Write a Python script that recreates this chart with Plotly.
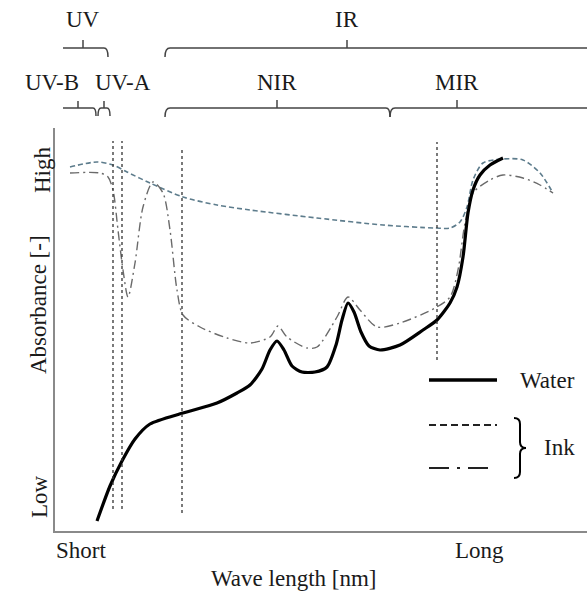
import plotly.graph_objects as go

# ---- data (x: relative wavelength position, y: relative absorbance) ----
water_x = [42, 55, 67, 80, 95, 128, 162, 182, 195, 207, 215, 222, 229, 237, 247, 260, 272, 281, 287, 293,
           299, 306, 314, 325, 345, 368, 382, 395, 402, 408, 413, 418, 425, 435, 448]
water_y = [10, 45, 70, 92, 107, 118, 128, 138, 146, 162, 181, 190, 181, 165, 159, 159, 164, 186, 211, 228,
           219, 199, 185, 181, 186, 201, 211, 228, 244, 274, 318, 341, 356, 366, 373]

ink1_x = [15, 42, 58, 72, 95, 128, 162, 195, 262, 328, 380, 395, 405, 412, 418, 428, 448, 468, 485, 498]
ink1_y = [364, 369, 366, 359, 348, 334, 326, 321, 313, 306, 303, 303, 309, 324, 351, 368, 372, 371, 358, 338]

ink2_x = [15, 45, 53, 58, 63, 68, 73, 80, 88, 98, 108, 115, 122, 128, 145, 172, 195, 215, 223, 232, 252,
          262, 282, 293, 305, 322, 345, 380, 395, 403, 410, 418, 435, 448, 468, 485, 498]
ink2_y = [358, 358, 354, 341, 301, 261, 234, 268, 324, 349, 338, 301, 241, 216, 204, 193, 188, 194, 205,
          194, 183, 184, 214, 234, 221, 204, 208, 223, 234, 261, 308, 338, 351, 356, 353, 346, 338]

boundary_x = [58, 67, 127, 382]
boundary_top = [390, 390, 384, 389]
boundary_bottom = [22, 22, 18, 171]

band_labels = ["UV", "IR", "UV-B", "UV-A", "NIR", "MIR"]

# ---- layout geometry (pixels) ----
W, H = 587, 592
L, R, T, B = 55, 0, 128, 61
PW, PH = W - L - R, H - T - B


def px(x):
    return (x - L) / PW


def py(y):
    return (H - B - y) / PH


def path(cmds):
    out = []
    for c in cmds:
        if isinstance(c, str):
            out.append(c)
        else:
            out.append(f"{px(c[0]):.5f},{py(c[1]):.5f}")
    return " ".join(out)


fig = go.Figure()

fig.add_trace(go.Scatter(x=ink1_x, y=ink1_y, mode="lines",
                         line=dict(color="#5d7c8c", width=1.6, dash="5px,3px", shape="spline", smoothing=0.8),
                         hoverinfo="skip"))
fig.add_trace(go.Scatter(x=ink2_x, y=ink2_y, mode="lines",
                         line=dict(color="#6a6a6a", width=1.4, dash="9px,4px,2px,4px", shape="spline",
                                   smoothing=0.8),
                         hoverinfo="skip"))
fig.add_trace(go.Scatter(x=water_x, y=water_y, mode="lines",
                         line=dict(color="#000000", width=3.2, shape="spline", smoothing=0.7),
                         hoverinfo="skip"))

for bx, t, b in zip(boundary_x, boundary_top, boundary_bottom):
    fig.add_trace(go.Scatter(x=[bx, bx], y=[b, t], mode="lines",
                             line=dict(color="#333333", width=1.3, dash="dot"), hoverinfo="skip"))

shapes = []
bracket_color = "#444444"
bracket_paths = [
    # UV
    ["M", (63, 48), "L", (104, 48), "Q", (108, 48), (108, 57)],
    ["M", (83, 48), "L", (83, 40)],
    # IR
    ["M", (165, 57), "Q", (165, 48), (170, 48), "L", (587, 48)],
    ["M", (347, 48), "L", (347, 40)],
    # UV-B
    ["M", (63, 108), "L", (93, 108), "Q", (96, 108), (96, 116)],
    ["M", (78, 108), "L", (78, 101)],
    # UV-A
    ["M", (98, 116), "Q", (98, 108), (101, 108), "L", (107, 108), "Q", (110, 108), (110, 116)],
    ["M", (104, 108), "L", (104, 101)],
    # NIR
    ["M", (165, 117), "Q", (165, 108), (170, 108), "L", (386, 108), "Q", (390, 108), (390, 117)],
    ["M", (277, 108), "L", (277, 100)],
    # MIR
    ["M", (390, 117), "Q", (390, 108), (395, 108), "L", (587, 108)],
    ["M", (457, 108), "L", (457, 100)],
]
for p in bracket_paths:
    shapes.append(dict(type="path", xref="paper", yref="paper", path=path(p),
                       line=dict(color=bracket_color, width=1.5)))

# legend glyphs
shapes.append(dict(type="line", xref="paper", yref="paper", x0=px(429), x1=px(497), y0=py(380), y1=py(380),
                   line=dict(color="black", width=3.5)))
shapes.append(dict(type="line", xref="paper", yref="paper", x0=px(429), x1=px(497), y0=py(425), y1=py(425),
                   line=dict(color="#222222", width=1.8, dash="7px,4px")))
shapes.append(dict(type="line", xref="paper", yref="paper", x0=px(429), x1=px(490), y0=py(468), y1=py(468),
                   line=dict(color="#222222", width=1.8, dash="20px,8px,3px,8px")))
shapes.append(dict(type="path", xref="paper", yref="paper",
                   path=path(["M", (514, 418), "Q", (520, 418), (520, 424), "L", (520, 442),
                              "Q", (520, 448), (526, 448), "Q", (520, 448), (520, 454), "L", (520, 472),
                              "Q", (520, 478), (514, 478)]),
                   line=dict(color="black", width=2)))

font = dict(family="Liberation Serif", size=23, color="#1a1a1a")
annotations = []


def text(t, x, y, angle=0, size=23):
    f = dict(font)
    f["size"] = size
    annotations.append(dict(text=t, xref="paper", yref="paper", x=px(x), y=py(y), showarrow=False,
                            xanchor="center", yanchor="middle", textangle=angle, font=f))


label_pos = [(83, 20), (347, 20), (52, 82), (123, 82), (277, 82), (457, 82)]
for lab, (lx, ly) in zip(band_labels, label_pos):
    text(lab, lx, ly)

text("Water", 547, 380)
text("Ink", 559, 447)
text("Short", 81, 550)
text("Long", 479, 550)
text("Wave length [nm]", 293, 578)
text("High", 42, 170, angle=-90)
text("Absorbance [-]", 38, 305, angle=-90)
text("Low", 39, 497, angle=-90)

fig.update_layout(
    width=W, height=H,
    margin=dict(l=L, r=R, t=T, b=B),
    paper_bgcolor="white", plot_bgcolor="white",
    showlegend=False,
    shapes=shapes,
    annotations=annotations,
    xaxis=dict(range=[0, PW], showgrid=False, zeroline=False, showticklabels=False, ticks="",
               showline=True, linecolor="#8a8a8a", linewidth=1.5, fixedrange=True),
    yaxis=dict(range=[0, PH], showgrid=False, zeroline=False, showticklabels=False, ticks="",
               showline=True, linecolor="#8a8a8a", linewidth=1.5, fixedrange=True),
)

fig.write_html("out.html", config={"displayModeBar": False},
               post_script="document.body.style.margin='0';document.body.style.overflow='hidden';")
